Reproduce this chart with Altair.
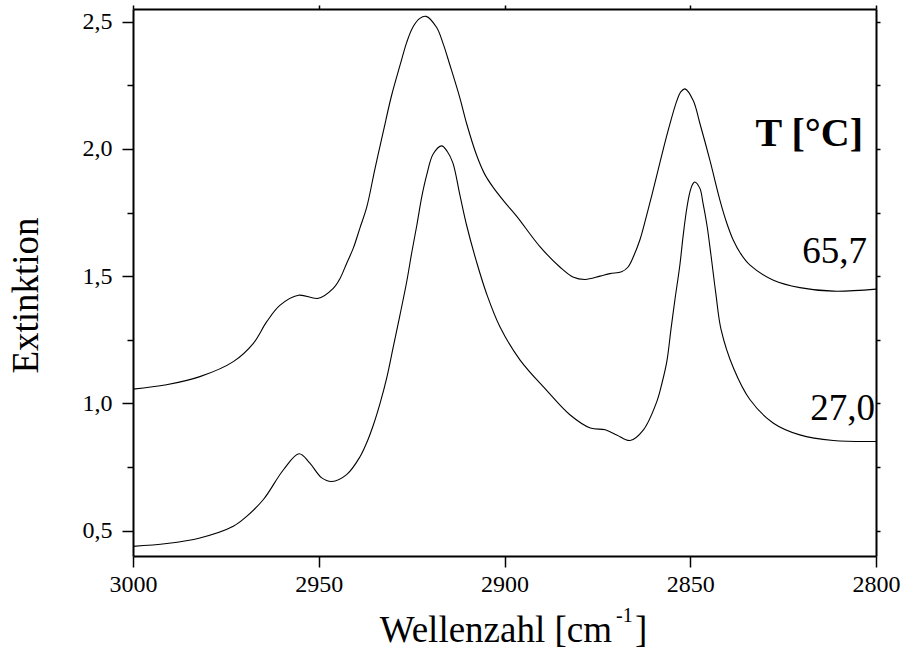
import altair as alt
import pandas as pd

# ---- data ----
wn_657 = [3000, 2991, 2982, 2973, 2967.6, 2964, 2960.4, 2955.5, 2950.1, 2946.1,
          2944.3, 2942.5, 2940.7, 2938.9, 2937.1, 2934.9, 2932.6, 2930.4, 2928.1,
          2926.3, 2924.6, 2922.8, 2921.1, 2918.3, 2916.5, 2914.7, 2912.0, 2910.2,
          2907.5, 2905.3, 2903.1, 2899.9, 2896.7, 2890.4, 2885.1, 2881.6, 2878.3,
          2874.3, 2871.6, 2868.5, 2866.8, 2865.2, 2863.5, 2861.9, 2860.3, 2858.1,
          2856.0, 2853.6, 2852.5, 2851.4, 2849.2, 2847.4, 2844.7, 2842.0, 2840.2,
          2838.4, 2836.5, 2833.9, 2827.6, 2820.5, 2811.5, 2800]
ext_657 = [1.056, 1.073, 1.105, 1.164, 1.236, 1.321, 1.386, 1.425, 1.413, 1.452,
           1.490, 1.550, 1.610, 1.690, 1.770, 1.920, 2.070, 2.210, 2.330,
           2.420, 2.480, 2.513, 2.521, 2.478, 2.413, 2.330, 2.200, 2.100,
           1.975, 1.900, 1.850, 1.790, 1.735, 1.615, 1.536, 1.497, 1.487,
           1.500, 1.510, 1.517, 1.535, 1.580, 1.645, 1.730, 1.820, 1.950,
           2.070, 2.190, 2.225, 2.236, 2.190, 2.100, 1.955, 1.798, 1.710,
           1.641, 1.590, 1.543, 1.484, 1.455, 1.441, 1.449]

wn_270 = [3000, 2990.9, 2982, 2973, 2969.4, 2964.9, 2959.5, 2955.3, 2952.4, 2949.2,
          2946.5, 2942.5, 2938.9, 2937.1, 2935.3, 2933.5, 2931.7, 2929.9, 2928.1,
          2926.3, 2925.0, 2923.6, 2922.3, 2920.9, 2919.2, 2916.9, 2915.4, 2913.9,
          2912.0, 2910.2, 2907.5, 2904.8, 2901.2, 2895.8, 2888.6, 2882.4, 2876.9,
          2872.9, 2869.8, 2866.2, 2862.6, 2859.0, 2857.6, 2856.3, 2855.2, 2854.1,
          2852.8, 2851.9, 2851.0, 2850.1, 2849.4, 2848.8, 2847.4, 2846.6, 2845.5,
          2844.4, 2843.1, 2841.7, 2838.4, 2833.9, 2827.6, 2820.5, 2811.5, 2800]
ext_270 = [0.438, 0.449, 0.471, 0.517, 0.556, 0.622, 0.739, 0.802, 0.765, 0.707,
           0.693, 0.720, 0.790, 0.845, 0.915, 1.000, 1.100, 1.225, 1.350,
           1.480, 1.590, 1.700, 1.810, 1.900, 1.980, 2.012, 1.990, 1.945,
           1.818, 1.700, 1.555, 1.430, 1.300, 1.170, 1.050, 0.955, 0.903,
           0.896, 0.876, 0.854, 0.896, 1.007, 1.080, 1.165, 1.290, 1.410,
           1.543, 1.660, 1.760, 1.830, 1.860, 1.870, 1.845, 1.790, 1.700,
           1.580, 1.430, 1.290, 1.140, 1.014, 0.922, 0.876, 0.854, 0.850]

series_names = ["65,7", "27,0"]
legend_title = "T [°C]"
x_title_main = "Wellenzahl [cm"
x_title_sup = "-1"
x_title_end = "]"
y_title = "Extinktion"
x_ticks = [3000, 2950, 2900, 2850, 2800]
y_ticks = [0.5, 0.75, 1.0, 1.25, 1.5, 1.75, 2.0, 2.25, 2.5]

df = pd.concat([
    pd.DataFrame({"wn": wn_657, "ext": ext_657, "series": series_names[0]}),
    pd.DataFrame({"wn": wn_270, "ext": ext_270, "series": series_names[1]}),
], ignore_index=True)

W, H = 743, 547
FONT = "Liberation Serif"
LFS = 24

xs = alt.Scale(domain=[2800, 3000], reverse=True, nice=False, zero=False)
ys = alt.Scale(domain=[0.4, 2.55], nice=False, zero=False)

lines = alt.Chart(df).mark_line(color="black", strokeWidth=1.1, interpolate="catmull-rom").encode(
    x=alt.X("wn:Q", scale=xs, axis=alt.Axis(
        orient="bottom", values=x_ticks, format="d", tickSize=11, labelPadding=5,
        labelFlush=False, labelFont=FONT, labelFontSize=LFS, labelColor="black",
        title=None)),
    y=alt.Y("ext:Q", scale=ys, axis=alt.Axis(
        orient="left", values=y_ticks,
        labelExpr="datum.value % 0.5 == 0 ? replace(format(datum.value, '.1f'), '.', ',') : ''",
        tickSize={"condition": {"test": "datum.value % 0.5 == 0", "value": 11}, "value": 6},
        labelPadding=10, labelFlush=False, labelFont=FONT, labelFontSize=LFS,
        labelColor="black",
        title=y_title, titleX=-96, titleY=286, titleAngle=-90, titleFontSize=37,
        titleFont=FONT, titleFontWeight="normal", titleBaseline="alphabetic",
        titleAlign="center", titleColor="black")),
    detail="series:N",
)

mirror = alt.Chart(df).mark_line(opacity=0).encode(
    x=alt.X("wn:Q", scale=xs, axis=alt.Axis(
        orient="top", values=x_ticks, tickSize=4, labels=False, title=None)),
    y=alt.Y("ext:Q", scale=ys, axis=alt.Axis(
        orient="right", values=y_ticks, tickSize=4, labels=False, title=None)),
    detail="series:N",
)

ann = pd.DataFrame({"t": [legend_title]})
t_head = alt.Chart(ann).mark_text(font=FONT, fontSize=40, fontWeight="bold",
                                  align="right", baseline="alphabetic", color="black").encode(
    x=alt.value(730), y=alt.value(137), text="t:N")

lab_hi = alt.Chart(pd.DataFrame({"t": [series_names[0]]})).mark_text(
    font=FONT, fontSize=37, align="right", baseline="alphabetic", color="black").encode(
    x=alt.value(734), y=alt.value(254), text="t:N")
lab_lo = alt.Chart(pd.DataFrame({"t": [series_names[1]]})).mark_text(
    font=FONT, fontSize=37, align="right", baseline="alphabetic", color="black").encode(
    x=alt.value(742), y=alt.value(411), text="t:N")

xt1 = alt.Chart(pd.DataFrame({"t": [x_title_main]})).mark_text(
    font=FONT, fontSize=37, align="right", baseline="alphabetic", color="black").encode(
    x=alt.value(479), y=alt.value(633), text="t:N")
xt2 = alt.Chart(pd.DataFrame({"t": [x_title_sup]})).mark_text(
    font=FONT, fontSize=20, align="left", baseline="alphabetic", color="black").encode(
    x=alt.value(483), y=alt.value(613), text="t:N")
xt3 = alt.Chart(pd.DataFrame({"t": [x_title_end]})).mark_text(
    font=FONT, fontSize=37, align="left", baseline="alphabetic", color="black").encode(
    x=alt.value(502), y=alt.value(633), text="t:N")

chart = alt.layer(lines, mirror, t_head, lab_hi, lab_lo, xt1, xt2, xt3).resolve_axis(
    x="independent", y="independent"
).properties(
    width=W, height=H,
    autosize=alt.AutoSizeParams(type="none"),
    padding={"left": 133, "top": 9, "right": 28, "bottom": 103},
    background="white",
).configure_axis(
    labelFont=FONT, labelFontSize=LFS, labelColor="black",
    tickColor="black", tickWidth=1.5, domainColor="black", domainWidth=2,
    grid=False,
).configure_view(stroke=None)

chart.save("out.html", embed_options={"renderer": "svg", "actions": False})
